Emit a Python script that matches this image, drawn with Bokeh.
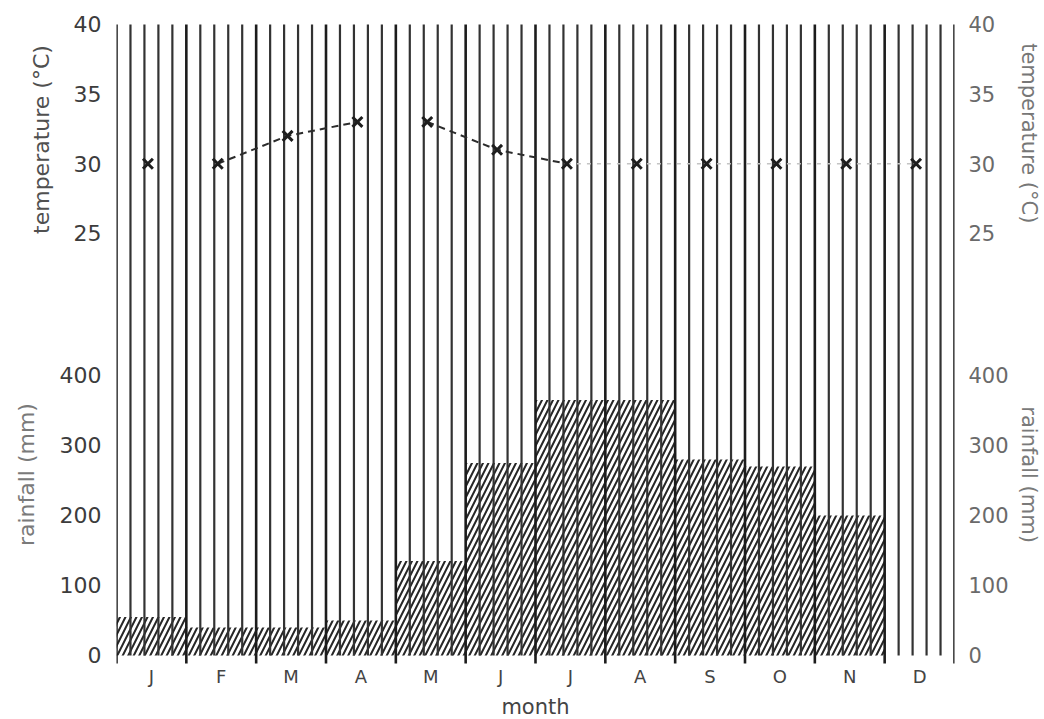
import math
from bokeh.plotting import figure
from bokeh.layouts import row
from bokeh.models import Range1d, LinearAxis, FixedTicker
from bokeh.core.properties import value
from bokeh.embed import file_html
from bokeh.resources import INLINE

# ---------------- data ----------------
months = ["J", "F", "M", "A", "M", "J", "J", "A", "S", "O", "N", "D"]
temperature = [30, 30, 32, 33, 33, 31, 30, 30, 30, 30, 30, 30]   # deg C
rainfall = [55, 40, 40, 50, 135, 275, 365, 365, 280, 270, 200, 0]  # mm
rain_ticks = [0, 100, 200, 300, 400]
temp_ticks = [25, 30, 35, 40]

# ---------------- layout constants ----------------
H = 717
LEFT_W, RIGHT_W = 56, 34
FRAME_W, FRAME_H = 838, 648
BORDER_L, BORDER_R, BORDER_T = 60, 56, 16
BORDER_B = H - BORDER_T - FRAME_H
PX_PER_MM = 0.70
PX_PER_DEG = 13.93
r0 = -12.86
r1 = r0 + FRAME_H / PX_PER_MM
t1 = 40.57
t0 = t1 - FRAME_H / PX_PER_DEG


def t_to_r(t):
    return r0 + (t - t0) / (t1 - t0) * (r1 - r0)


FONT = "DejaVu Sans"

p = figure(frame_width=FRAME_W, frame_height=FRAME_H,
           x_range=Range1d(0, 12), y_range=Range1d(r0, r1),
           output_backend="svg", toolbar_location=None,
           min_border_left=BORDER_L, min_border_right=BORDER_R,
           min_border_top=BORDER_T, min_border_bottom=BORDER_B)
p.extra_y_ranges = {"temp": Range1d(t0, t1)}
p.xgrid.visible = False
p.ygrid.visible = False
p.outline_line_color = None
p.background_fill_color = "white"
p.border_fill_color = "white"

# ---------------- axes ----------------
y_tick_vals = list(rain_ticks) + [round(t_to_r(t), 4) for t in temp_ticks]
y_over = {v: str(v) for v in rain_ticks}
for t in temp_ticks:
    y_over[round(t_to_r(t), 4)] = str(t)


def style_axis(ax, color, standoff, size):
    ax.axis_line_color = None
    ax.major_tick_line_color = None
    ax.minor_tick_line_color = None
    ax.major_tick_out = 0
    ax.major_tick_in = 0
    ax.minor_tick_out = 0
    ax.minor_tick_in = 0
    ax.major_label_text_font = FONT
    ax.major_label_text_font_size = size
    ax.major_label_text_color = color
    ax.major_label_standoff = standoff


yl = p.yaxis[0]
yl.ticker = FixedTicker(ticks=y_tick_vals)
yl.major_label_overrides = y_over
style_axis(yl, "#3c3c3c", 15, "22px")

yr = LinearAxis(ticker=FixedTicker(ticks=y_tick_vals), major_label_overrides=y_over)
style_axis(yr, "#6a6a6a", 14, "21px")
p.add_layout(yr, "right")

xb = p.xaxis[0]
xb.ticker = FixedTicker(ticks=[i + 0.5 for i in range(len(months))])
xb.major_label_overrides = {i + 0.5: m for i, m in enumerate(months)}
style_axis(xb, "#444444", 1, "18px")
xb.axis_label = "month"
xb.axis_label_text_font = FONT
xb.axis_label_text_font_size = "21px"
xb.axis_label_text_font_style = "normal"
xb.axis_label_text_color = "#444444"
xb.axis_label_standoff = 5

# ---------------- rainfall bars (hatched) ----------------
p.vbar(x=[i + 0.5 for i in range(len(months))], width=1, top=rainfall, bottom=0,
       fill_color=None, line_color=None,
       hatch_pattern="/", hatch_color="#262626", hatch_weight=2.0, hatch_scale=11)

# ---------------- vertical ruling ----------------
SUB = 5
top_r = t_to_r(40)
nx, bx = [], []
for k in range(len(months) * SUB + 1):
    (bx if k % SUB == 0 else nx).append(k / SUB)
p.segment(x0=nx, x1=nx, y0=[0] * len(nx), y1=[top_r] * len(nx),
          line_color="#333333", line_width=2.2)
p.segment(x0=bx, x1=bx, y0=[r0 + 1.5] * len(bx), y1=[top_r] * len(bx),
          line_color="#1c1c1c", line_width=2.6)

# ---------------- temperature ----------------
tx = [i + 0.45 for i in range(len(months))]
p.line(tx[6:], temperature[6:], y_range_name="temp",
       line_color="#c4c4c4", line_width=1.6, line_dash="4 6")
for a, b in [(1, 3), (4, 6)]:
    p.line(tx[a:b + 1], temperature[a:b + 1], y_range_name="temp",
           line_color="#2c2c2c", line_width=2, line_dash="7 5")
p.scatter(tx, temperature, y_range_name="temp", marker="x", size=14,
          line_color="#1e1e1e", line_width=3)


# ---------------- side title strips ----------------
def title_strip(width, xs, ys, texts, angle, colors, size):
    f = figure(width=width, height=H, x_range=Range1d(0, width), y_range=Range1d(0, H),
               output_backend="svg", toolbar_location=None, min_border=0,
               x_axis_location=None, y_axis_location=None)
    f.xgrid.visible = False
    f.ygrid.visible = False
    f.outline_line_color = None
    f.border_fill_color = "white"
    f.text(x=xs, y=[H - y for y in ys], text=texts, angle=angle,
           text_align="center", text_baseline="middle",
           text_font=value(FONT), text_font_size=size, text_color=colors)
    return f


left = title_strip(LEFT_W, [41, 26], [137, 510], ["temperature (°C)", "rainfall (mm)"],
                   math.pi / 2, ["#505050", "#7a7a7a"], "22px")
right = title_strip(RIGHT_W, [17, 17], [130, 510], ["temperature (°C)", "rainfall (mm)"],
                    -math.pi / 2, ["#777777", "#7a7a7a"], "21px")

layout = row(left, p, right)
open("out.html", "w").write(file_html(layout, INLINE))
